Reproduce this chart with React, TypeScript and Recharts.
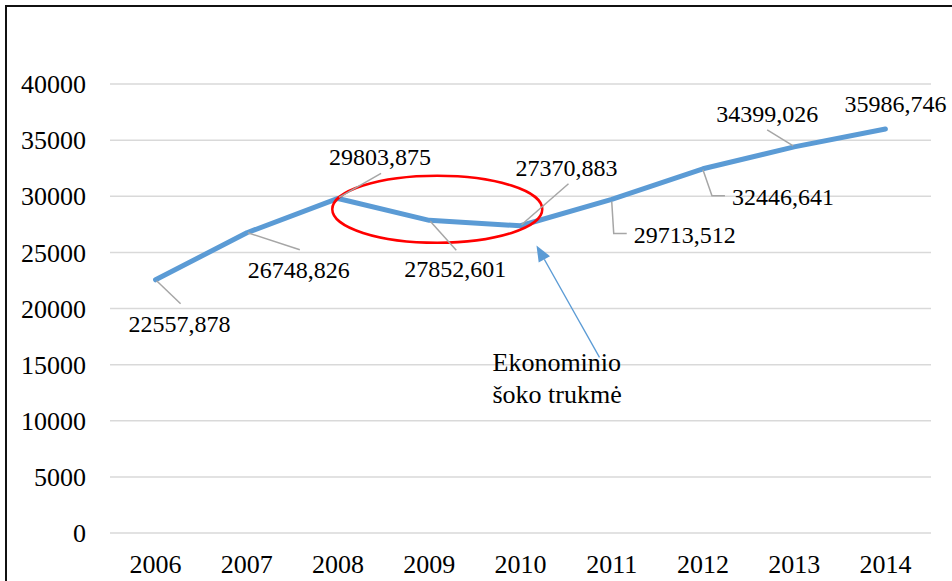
import { LineChart, Line, XAxis, YAxis, CartesianGrid, LabelList, ReferenceDot } from 'recharts';

const years = ['2006', '2007', '2008', '2009', '2010', '2011', '2012', '2013', '2014'];
const values = [22557.878, 26748.826, 29803.875, 27852.601, 27370.883, 29713.512, 32446.641, 34399.026, 35986.746];
const yTicks = [0, 5000, 10000, 15000, 20000, 25000, 30000, 35000, 40000];
const noteLines = ['Ekonominio', 'šoko trukmė'];

const data = years.map((year, i) => ({ year, value: values[i] }));

// label placement per point: text centre offset and leader polyline (relative to the point)
const labelPlacement: { dx: number; dy: number; leader: [number, number][] }[] = [
  { dx: 24, dy: 44, leader: [[1, 1], [25, 24]] },
  { dx: 52, dy: 37, leader: [[1, 0], [53, 17]] },
  { dx: 42, dy: -41, leader: [[1, -1], [43, -25]] },
  { dx: 26, dy: 49, leader: [[1, 1], [27, 30]] },
  { dx: 46, dy: -58, leader: [[1, -1], [48, -42]] },
  { dx: 73, dy: 36, leader: [[0, 2], [2, 34], [15, 34]] },
  { dx: 80, dy: 28, leader: [[0, 1], [9, 27], [22, 27]] },
  { dx: -27, dy: -33, leader: [[-1, -1], [-27, -17]] },
  { dx: 10, dy: -25, leader: [] },
];

const FONT = "'Liberation Serif', 'DejaVu Serif', serif";
const fmt = (v: number) => v.toFixed(3).replace('.', ',');

function PointLabel(props: any) {
  const { x, y, index, value } = props;
  const p = labelPlacement[index];
  if (!p) return null;
  return (
    <g>
      {p.leader.length > 1 && (
        <polyline
          points={p.leader.map(([a, b]) => `${x + a},${y + b}`).join(' ')}
          fill="none"
          stroke="#a6a6a6"
          strokeWidth={1.5}
        />
      )}
      <text
        x={x + p.dx}
        y={y + p.dy}
        textAnchor="middle"
        dominantBaseline="central"
        style={{ fontFamily: FONT, fontSize: 24 }}
        fill="#000"
      >
        {fmt(Number(value))}
      </text>
    </g>
  );
}

function ShockEllipse(props: any) {
  const { cx, cy } = props;
  return <ellipse cx={cx + 8} cy={cy + 13} rx={105} ry={33.5} fill="none" stroke="#ff0000" strokeWidth={2.5} />;
}

function ShockNote(props: any) {
  const { cx, cy } = props;
  const tipX = cx + 16;
  const tipY = cy - 7;
  const endX = cx + 79;
  const endY = cy + 105;
  const ang = Math.atan2(endY - tipY, endX - tipX);
  const len = 16;
  const half = 6.5;
  const bx = tipX + Math.cos(ang) * len;
  const by = tipY + Math.sin(ang) * len;
  const px = -Math.sin(ang) * half;
  const py = Math.cos(ang) * half;
  return (
    <g>
      <line x1={bx} y1={by} x2={endX} y2={endY} stroke="#5b9bd5" strokeWidth={1.25} />
      <polygon points={`${tipX},${tipY} ${bx + px},${by + py} ${bx - px},${by - py}`} fill="#5b9bd5" />
      {noteLines.map((t, i) => (
        <text key={t} x={cx - 28} y={cy + 118.5 + i * 32} style={{ fontFamily: FONT, fontSize: 26 }} fill="#000">
          {t}
        </text>
      ))}
    </g>
  );
}

export default function App() {
  return (
    <div
      style={{
        position: 'absolute',
        left: 0,
        top: 0,
        width: 952,
        height: 581,
        overflow: 'hidden',
        background: '#fff',
        fontFamily: FONT,
      }}
    >
      <div
        style={{
          position: 'absolute',
          left: 5,
          top: 5,
          width: 1000,
          height: 700,
          borderLeft: '2px solid #111',
          borderTop: '2px solid #111',
        }}
      />
      <div style={{ position: 'absolute', left: 0, top: 0 }}>
        <LineChart width={952} height={581} data={data} margin={{ top: 84, right: 21, left: 0, bottom: 0 }}>
          <CartesianGrid vertical={false} stroke="#d9d9d9" strokeWidth={1.5} />
          <XAxis
            dataKey="year"
            height={48}
            padding={{ left: 45.6, right: 45.6 }}
            axisLine={false}
            tickLine={false}
            tickMargin={15.5}
            tick={{ fontSize: 26, fill: '#000', fontFamily: FONT }}
          />
          <YAxis
            width={110}
            domain={[0, 40000]}
            ticks={yTicks}
            axisLine={false}
            tickLine={false}
            tickMargin={18}
            tick={{ fontSize: 26, fill: '#000', fontFamily: FONT }}
          />
          <Line
            dataKey="value"
            stroke="#5b9bd5"
            strokeWidth={5}
            strokeLinecap="round"
            strokeLinejoin="round"
            dot={false}
            activeDot={false}
            isAnimationActive={false}
          >
            <LabelList dataKey="value" content={PointLabel} />
          </Line>
          <ReferenceDot x="2009" y={30000} r={0} shape={ShockEllipse} />
          <ReferenceDot x="2010" y={25000} r={0} shape={ShockNote} />
        </LineChart>
      </div>
    </div>
  );
}
